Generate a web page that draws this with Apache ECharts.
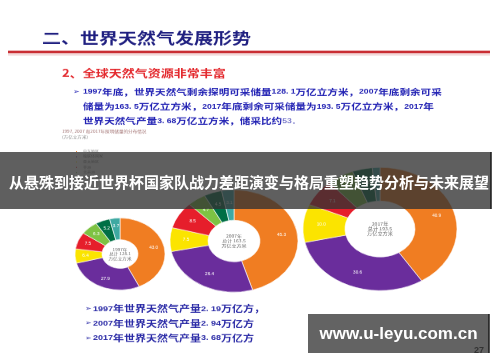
<!DOCTYPE html>
<html>
<head>
<meta charset="utf-8">
<script src="https://cdn.jsdelivr.net/npm/echarts@6.0.0/dist/echarts.min.js"></script>
<style>
html, body { margin: 0; padding: 0; background: #fff; }
#wrap { position: relative; width: 500px; height: 362px; overflow: hidden; background: #fff; }
/* the slide picture is squashed vertically, so the slide layer is too */
#slideChart { position: absolute; left: 0; top: 0; width: 500px; height: 453px; transform: scaleY(0.8); transform-origin: 0 0; }
#overlayChart { position: absolute; left: 0; top: 0; width: 500px; height: 362px; }
</style>
</head>
<body>
<div id="wrap">
    <div id="slideChart"></div>
    <div id="overlayChart"></div>
</div>
<script>
// data
const regions = ['中东地区', '独联体国家', '亚太地区', '非洲', '北美洲', '中南美洲', '欧洲']
const regionColors = ['#f07d22', '#6a2d9c', '#fbe400', '#e61e2b', '#7dc243', '#006f45', '#3ea9a2']
const years = [1997, 2007, 2017]
const reserves = [128.1, 163.5, 193.5]
const production = [2.19, 2.94, 3.68]
const rpRatio = 53
const share1997 = [43.0, 27.9, 6.4, 7.5, 6.3, 5.2, 3.7]
const share2007 = [45.3, 26.4, 7.5, 8.5, 4.7, 4.5, 3.1]
const share2017 = [40.9, 30.6, 10.0, 7.1, 5.6, 4.2, 1.6]
const shares = [share1997, share2007, share2017]

const SY = 0.8
const FONT_CJK = '"Noto Sans CJK SC", sans-serif'
const FONT_NUM = '"Liberation Sans", Arial, sans-serif'
const fmt = (v) => String(v).replace('.', '. ')
const runs = (s) => s.replace(/([0-9.\s]+)|([^0-9.\s]+)/g, (m, d) => d ? '{n|' + d + '}' : '{c|' + m + '}')

// donut placement (real pixels, x / y / outer / inner)
const pies = [
    { cx: 120, cy: 254, r: 45, ir: 18, fs: 4.6 },
    { cx: 234, cy: 241, r: 64, ir: 26, fs: 5 },
    { cx: 380, cy: 229, r: 77, ir: 35, fs: 5.2 }
]

const topBlue = '#2323b4'
const topRich = {
    c: { fontSize: 10.6, fontWeight: 'bold', fontFamily: FONT_CJK, fill: topBlue },
    n: { fontSize: 8.6, fontWeight: 'bold', fontFamily: FONT_NUM, fill: topBlue },
    l: { fontSize: 8.6, fontFamily: FONT_NUM, fill: '#4a4ab8' }
}
const botBlue = '#2a2aa6'
const botRich = {
    c: { fontSize: 11, fontWeight: 'bold', fontFamily: FONT_CJK, fill: botBlue },
    n: { fontSize: 9, fontWeight: 'bold', fontFamily: FONT_NUM, fill: botBlue }
}

const topLines = [
    runs(years[0] + '年底，世界天然气剩余探明可采储量' + fmt(reserves[0]) + '万亿立方米，' + years[1] + '年底剩余可采'),
    runs('储量为' + fmt(reserves[1]) + '万亿立方米，' + years[2] + '年底剩余可采储量为' + fmt(reserves[2]) + '万亿立方米，' + years[2] + '年'),
    runs('世界天然气产量' + fmt(production[2]) + '万亿立方米，储采比约') + '{l|' + rpRatio + '。}'
]
const topY = [92, 106.5, 121]
const botY = [309, 323.5, 338]

const slideGraphics = [
    { type: 'text', x: 42, y: 38 / SY, style: { text: '二、世界天然气发展形势', fontSize: 19, fontWeight: 'bold', fontFamily: FONT_CJK, fill: '#1f1f80', verticalAlign: 'middle' } },
    { type: 'line', shape: { x1: 8, y1: 52 / SY, x2: 490, y2: 52 / SY }, style: { stroke: '#c62026', lineWidth: 3 } },
    { type: 'line', shape: { x1: 8, y1: 55 / SY, x2: 490, y2: 55 / SY }, style: { stroke: '#e4b0b0', lineWidth: 1 } },
    { type: 'text', x: 62, y: 72.5 / SY, style: { text: '2、全球天然气资源非常丰富', fontSize: 13, fontWeight: 'bold', fontFamily: FONT_CJK, fill: '#e3282d', verticalAlign: 'middle' } },
    { type: 'text', x: 73, y: 92 / SY, style: { text: '➢', fontSize: 8, fontFamily: '"DejaVu Sans"', fill: topBlue, verticalAlign: 'middle' } },
    { type: 'text', x: 62, y: 131 / SY, style: { text: '1997, 2007 和2017年探明储量的分布情况', fontSize: 4.6, fontFamily: FONT_CJK, fill: '#a07070', verticalAlign: 'middle' } },
    { type: 'text', x: 62, y: 137 / SY, style: { text: '(万亿立方米)', fontSize: 4.6, fontFamily: FONT_CJK, fill: '#888', verticalAlign: 'middle' } }
]
topLines.forEach((t, i) => {
    slideGraphics.push({ type: 'text', x: 83, y: topY[i] / SY, style: { text: t, rich: topRich, verticalAlign: 'middle' } })
})
years.forEach((y, i) => {
    slideGraphics.push({ type: 'text', x: 85, y: botY[i] / SY, style: { text: '➢', fontSize: 8, fontFamily: '"DejaVu Sans"', fill: botBlue, verticalAlign: 'middle' } })
    const t = runs(y + '年世界天然气产量' + fmt(production[i]) + '万亿方' + (i === 0 ? '，' : ''))
    slideGraphics.push({ type: 'text', x: 93, y: botY[i] / SY, style: { text: t, rich: botRich, verticalAlign: 'middle' } })
    const p = pies[i]
    slideGraphics.push({
        type: 'text', x: p.cx, y: p.cy / SY,
        style: { text: y + '年\n总计 ' + reserves[i] + '\n万亿立方米', fontSize: p.fs, lineHeight: p.fs * 1.2, fontFamily: FONT_CJK, fill: '#666', align: 'center', verticalAlign: 'middle' }
    })
})

const slideOption = {
    animation: false,
    legend: {
        orient: 'vertical',
        left: 74,
        top: 149.5 / SY,
        padding: 0,
        icon: 'rect',
        itemWidth: 3,
        itemHeight: 3,
        itemGap: 1.6,
        selectedMode: false,
        textStyle: { fontSize: 4, lineHeight: 4, color: '#888', fontFamily: FONT_CJK },
        data: regions
    },
    graphic: { elements: slideGraphics },
    series: pies.map((p, i) => ({
        type: 'pie',
        silent: true,
        center: [p.cx, p.cy / SY],
        radius: [p.ir, p.r],
        startAngle: 90,
        clockwise: true,
        avoidLabelOverlap: false,
        label: { show: true, position: 'inside', fontSize: 4.6, color: '#fff', formatter: (d) => d.value.toFixed(1) },
        labelLine: { show: false },
        itemStyle: { borderColor: '#fff', borderWidth: 0.6 },
        data: shares[i].map((v, j) => ({ name: regions[j], value: v, itemStyle: { color: regionColors[j] } }))
    }))
}

const overlayOption = {
    animation: false,
    graphic: {
        elements: [
            { type: 'rect', shape: { x: 0, y: 152, width: 491, height: 57 }, style: { fill: 'rgba(50,50,50,0.78)' } },
            { type: 'line', shape: { x1: 491, y1: 152, x2: 491, y2: 209 }, style: { stroke: '#1a1a1a', lineWidth: 1.5 } },
            { type: 'text', x: 249, y: 182, style: { text: '从悬殊到接近世界杯国家队战力差距演变与格局重塑趋势分析与未来展望', fontSize: 15, fontWeight: 'bold', fontFamily: FONT_CJK, fill: '#fff', align: 'center', verticalAlign: 'middle' } },
            { type: 'rect', shape: { x: 308, y: 314, width: 181, height: 39 }, style: { fill: '#636363' } },
            { type: 'line', shape: { x1: 489, y1: 314, x2: 489, y2: 353 }, style: { stroke: '#1a1a1a', lineWidth: 1.5 } },
            { type: 'text', x: 398.5, y: 334, style: { text: 'www.u-leyu.com.cn', fontSize: 17, fontWeight: 'bold', fontFamily: FONT_NUM, fill: '#fff', align: 'center', verticalAlign: 'middle' } },
            { type: 'text', x: 479, y: 351, style: { text: '27', fontSize: 9, fontWeight: 'bold', fontFamily: FONT_NUM, fill: '#333', align: 'center', verticalAlign: 'middle' } }
        ]
    }
}

const slideChart = echarts.init(document.getElementById('slideChart'))
slideChart.setOption(slideOption)
const overlayChart = echarts.init(document.getElementById('overlayChart'))
overlayChart.setOption(overlayOption)
</script>
</body>
</html>
